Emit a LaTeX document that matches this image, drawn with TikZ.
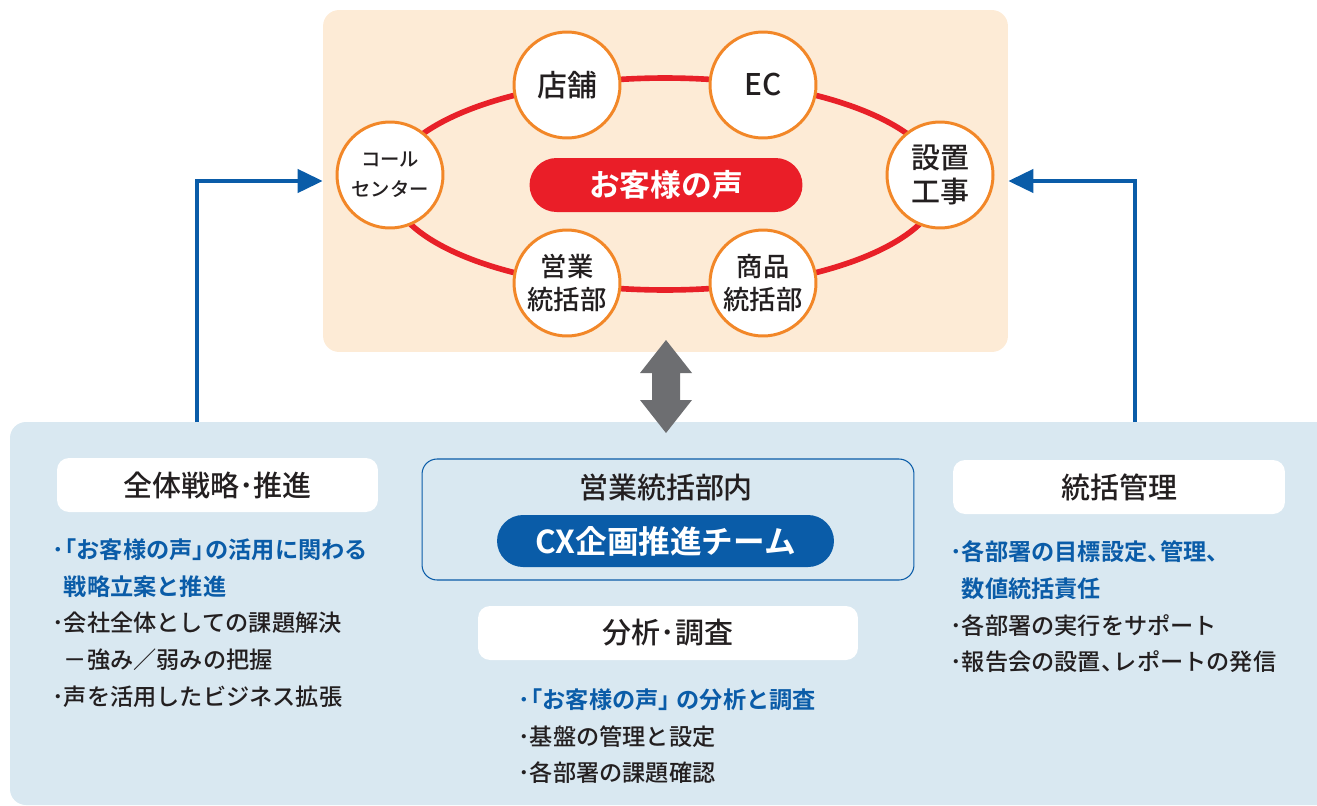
\documentclass[tikz,border=0pt]{standalone}
\usepackage{fontspec}
\setmainfont{Noto Sans CJK JP}[UprightFont={* Medium}, BoldFont={* Bold}]
\usetikzlibrary{arrows.meta,shapes.geometric}
\definecolor{peach}{RGB}{253,235,214}
\definecolor{ringred}{RGB}{232,32,40}
\definecolor{voicered}{RGB}{234,30,40}
\definecolor{rimorange}{RGB}{242,135,40}
\definecolor{cxblue}{RGB}{10,92,168}
\definecolor{panelblue}{RGB}{217,232,241}
\definecolor{swapgray}{RGB}{109,110,113}
\definecolor{ink}{RGB}{35,31,32}
\newcommand{\openq}{\kern-0.45em「}
\newcommand{\closeq}{」\kern-0.45em}
\newcommand{\jcomma}{、\kern-0.45em}
\tikzset{
  channel/.style={circle, draw=rimorange, line width=1.7pt, fill=white,
    minimum size=2.12cm, inner sep=0pt, align=center, text=ink},
  headbox/.style={rounded corners=0.24cm, fill=white, minimum height=1.08cm,
    text=ink, font=\fontsize{16.5}{19}\selectfont},
  feedback/.style={draw=cxblue, line width=2.3pt,
    -{Triangle[length=0.5cm,width=0.46cm]}},
  bullets/.style={anchor=north west, align=left, inner sep=0pt, text=ink,
    font=\fontsize{13.2}{21}\selectfont},
}

\begin{document}
\begin{tikzpicture}[x=0.02cm, y=-0.02cm]
  \useasboundingbox (0,0) rectangle (1317,805);

  % voice of the customer
  \node[fill=peach, rounded corners=0.32cm, minimum width=13.7cm,
    minimum height=6.84cm, inner sep=0pt] (voicearea) at (665.5,181) {};
  \node[ellipse, draw=ringred, line width=3.2pt, minimum width=11cm,
    minimum height=4.24cm, inner sep=0pt] (ring) at (665,184) {};

  \node[channel, font=\fontsize{17}{20}\selectfont] (store) at (567,85) {店舗};
  \node[channel, font=\fontsize{17}{20}\selectfont] (ec) at (763,85) {EC};
  \node[channel, font=\fontsize{11}{17}\selectfont] (callcenter) at (390,175) {コール\\センター};
  \node[channel, font=\fontsize{16.5}{19.5}\selectfont] (install) at (940,175) {設置\\工事};
  \node[channel, font=\fontsize{15}{19}\selectfont] (salesdiv) at (567,283) {営業\\統括部};
  \node[channel, font=\fontsize{15}{19}\selectfont] (productdiv) at (763,283) {商品\\統括部};

  \node[fill=voicered, rounded corners=0.54cm, minimum width=5.46cm,
    minimum height=1.08cm, text=white,
    font=\bfseries\fontsize{17.5}{20}\selectfont] (voice) at (666,185) {お客様の声};

  % lower panel
  \fill[panelblue] (1317,422) [rounded corners=0.32cm] -- (10,422) -- (10,805)
    [sharp corners] -- (1317,805) -- cycle;

  \coordinate (leftfoot) at (197,422);
  \coordinate (rightfoot) at (1135,422);
  \draw[feedback] (leftfoot) |- (voicearea.west);
  \draw[feedback] (rightfoot) |- (voicearea.east);

  % two-way exchange
  \fill[swapgray] (666,340) -- (692,373) -- (680,373) -- (680,400) -- (692,400)
    -- (666,433) -- (640,400) -- (652,400) -- (652,373) -- (640,373) -- cycle;

  % strategy
  \node[headbox, minimum width=6.42cm] (strategy) at (217.5,485) {全体戦略･推進};
  \node[bullets] (strategylist) at (52,538) {%
    \textcolor{cxblue}{\bfseries ･\openq お客様の声\closeq の活用に関わる}\\
    \textcolor{cxblue}{\bfseries \phantom{･}戦略立案と推進}\\
    ･会社全体としての課題解決\\
    \phantom{･}－強み／弱みの把握\\
    ･声を活用したビジネス拡張};

  % CX team
  \node[draw=cxblue, line width=0.6pt, rounded corners=0.3cm, minimum width=9.84cm,
    minimum height=2.42cm] (cxframe) at (668,519.5) {};
  \node[text=ink, font=\fontsize{16.5}{19}\selectfont] (salesin) at (666,487) {営業統括部内};
  \node[fill=cxblue, rounded corners=0.52cm, minimum width=6.74cm, minimum height=1.04cm,
    text=white, font=\bfseries\fontsize{18}{21}\selectfont] (cxteam) at (665.5,541) {CX企画推進チーム};

  \node[headbox, minimum width=7.6cm] (analysis) at (668,633) {分析･調査};
  \node[bullets] (analysislist) at (518,688) {%
    \textcolor{cxblue}{\bfseries ･\openq お客様の声\closeq\ の分析と調査}\\
    ･基盤の管理と設定\\
    ･各部署の課題確認};

  % management
  \node[headbox, minimum width=6.64cm] (control) at (1119,487) {統括管理};
  \node[bullets] (controllist) at (950,540) {%
    \textcolor{cxblue}{\bfseries ･各部署の目標設定\jcomma 管理\jcomma}\\
    \textcolor{cxblue}{\bfseries \phantom{･}数値統括責任}\\
    ･各部署の実行をサポート\\
    ･報告会の設置\jcomma レポートの発信};
\end{tikzpicture}
\end{document}
